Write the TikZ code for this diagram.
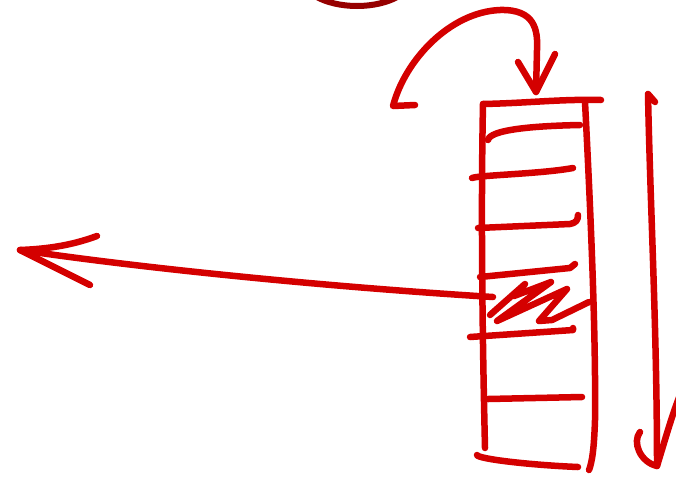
\documentclass[tikz,border=0pt]{standalone}
\definecolor{ink}{RGB}{212,0,0}
\definecolor{darkink}{RGB}{150,0,0}
\begin{document}
\begin{tikzpicture}[x=1pt,y=-1pt,
  pen/.style={draw=ink,line width=6.5pt,line cap=round,line join=round}]
\useasboundingbox (0,0) rectangle (676,477);
\fill[white] (0,0) rectangle (676,477);
\begin{scope}
\clip (0,0) rectangle (676,477);
% partial dark ellipse at the top edge
\draw[darkink,line width=6pt] (357,-26) ellipse [x radius=58, y radius=32];
% curved arrow into the stack
\draw[pen] (415,105) -- (393,106) .. controls (405,60) and (450,12) .. (500,10)
  .. controls (535,9) and (538,30) .. (537,50) -- (536,92);
\draw[pen] (518,62) -- (536,92) -- (555,54);
% stack outline
\draw[pen] (483,104) .. controls (530,103) and (560,99) .. (601,100);
\draw[pen] (483,104) .. controls (481,200) and (482,320) .. (485,448);
\draw[pen] (585,102) .. controls (590,200) and (596,330) .. (595,420)
  .. controls (594,450) and (592,462) .. (589,470);
\draw[pen] (477,455) .. controls (478,459) and (530,465) .. (578,467);
% rungs
\draw[pen] (488,140) .. controls (490,130) and (530,126) .. (580,125);
\draw[pen] (472,178) .. controls (480,175) and (540,174) .. (573,168);
\draw[pen] (478,228) -- (570,224) .. controls (576,223) and (578,220) .. (578,215);
\draw[pen] (480,277) -- (570,268) -- (575,264);
\draw[pen] (470,337) -- (573,330) -- (573,328);
\draw[pen] (488,399) -- (582,397);
% hatching
\draw[pen] (490,315) -- (525,284) -- (514,296) -- (551,282) -- (497,321)
  -- (567,289) -- (539,321) -- (552,320) -- (589,302);
% long left arrow
\draw[pen] (493,297) .. controls (300,285) and (120,265) .. (20,250);
\draw[pen] (97,236) .. controls (70,246) and (45,249) .. (20,250) -- (90,285);
% right downward arrow
\draw[pen] (655,102) -- (648,94) .. controls (650,200) and (657,330) .. (657,466);
\draw[pen] (640,432) .. controls (632,442) and (640,462) .. (657,466)
  .. controls (665,440) and (672,415) .. (680,395);
\end{scope}
\end{tikzpicture}
\end{document}
